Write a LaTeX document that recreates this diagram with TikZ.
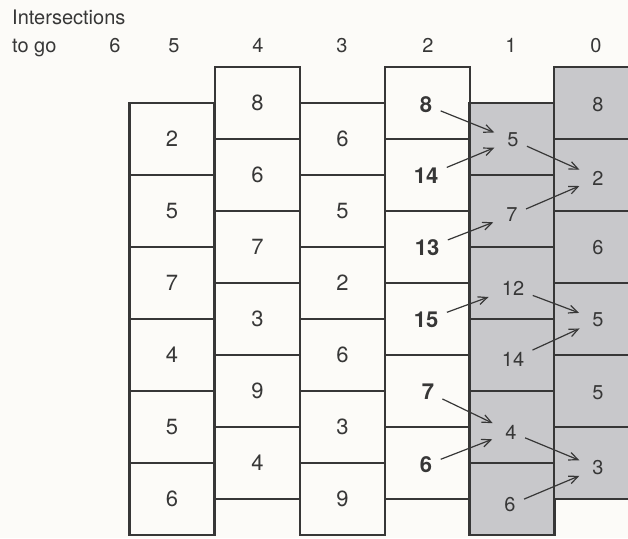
\documentclass[tikz,border=0pt]{standalone}
\usepackage{fontspec}
\setmainfont{TeX Gyre Heros}
\usetikzlibrary{arrows.meta}
\definecolor{ink}{RGB}{55,55,55}
\definecolor{shade}{RGB}{200,200,203}
\definecolor{paper}{RGB}{252,251,248}
\newcommand\boxfont{\fontsize{20}{24}\selectfont}
\newcommand\bigboxfont{\fontsize{22}{26}\selectfont}
\begin{document}
\begin{tikzpicture}[x=1pt,y=-1pt,
  box/.style={draw=ink,line width=2.8pt,minimum width=85pt,minimum height=72pt,inner sep=0pt,outer sep=0pt,font=\bigboxfont,text=ink},
  gbox/.style={box,fill=shade},
  num/.style={inner sep=0pt,font=\boxfont,text=ink},
  bnum/.style={inner sep=0pt,font=\bigboxfont\bfseries,text=ink},
  lab/.style={font=\boxfont,text=ink,inner sep=0pt},
  arr/.style={draw=ink,line width=1.2pt,-{Straight Barb[length=9pt,width=8pt]},shorten <=9pt,shorten >=14pt}]
\useasboundingbox (0,0) rectangle (628,538);
\clip (0,0) rectangle (628,538);
\fill[paper] (0,0) rectangle (628,538);
% header
\node[lab,anchor=base west] (hint) at (12,24) {Intersections};
\node[lab,anchor=base west] (hto) at (12,52) {to go};
\node[lab,anchor=base] (h6) at (115,52) {6};
\node[lab,anchor=base] (h5) at (174,52) {5};
\node[lab,anchor=base] (h4) at (258,52) {4};
\node[lab,anchor=base] (h3) at (342,52) {3};
\node[lab,anchor=base] (h2) at (428,52) {2};
\node[lab,anchor=base] (h1) at (511,52) {1};
\node[lab,anchor=base] (h0) at (596,52) {0};
% column 5
\foreach \v [count=\i from 0] in {2,5,7,4,5,6}
  \node[box] (a\i) at (172,{139+72*\i}) {\v};
% column 4
\foreach \v [count=\i from 0] in {8,6,7,3,9,4}
  \node[box] (b\i) at (257.5,{103+72*\i}) {\v};
% column 3
\foreach \v [count=\i from 0] in {6,5,2,6,3,9}
  \node[box] (c\i) at (342.5,{139+72*\i}) {\v};
% column 2
\foreach \i in {0,...,5}
  \node[box] (d\i) at (427.5,{103+72*\i}) {};
% column 1
\foreach \i in {0,...,5}
  \node[gbox] (e\i) at (512,{139+72*\i}) {};
% column 0
\foreach \i in {0,...,5}
  \node[gbox,minimum width=86pt] (f\i) at (597,{103+72*\i}) {};
% column 2 numbers (bold)
\node[bnum] (p0) at (426,105) {8};
\node[bnum] (p1) at (426,176) {14};
\node[bnum] (p2) at (427,248) {13};
\node[bnum] (p3) at (426,320) {15};
\node[bnum] (p4) at (428,392) {7};
\node[bnum] (p5) at (426,465) {6};
% column 1 numbers
\node[num] (q0) at (513,140) {5};
\node[num] (q1) at (512,215) {7};
\node[num] (q2) at (513,288) {12};
\node[num] (q3) at (513,359) {14};
\node[num] (q4) at (511,432) {4};
\node[num] (q5) at (510,505) {6};
% column 0 numbers
\node[num] (r0) at (598,105) {8};
\node[num] (r1) at (598,178) {2};
\node[num] (r2) at (598,248) {6};
\node[num] (r3) at (598,320) {5};
\node[num] (r4) at (598,393) {5};
\node[num] (r5) at (598,468) {3};
% arrows
\draw[arr] (p0) -- (q0);
\draw[arr] (p1) -- (q0);
\draw[arr] (p2) -- (q1);
\draw[arr] (p3) -- (q2);
\draw[arr] (p4) -- (q4);
\draw[arr] (p5) -- (q4);
\draw[arr] (q0) -- (r1);
\draw[arr] (q1) -- (r1);
\draw[arr] (q2) -- (r3);
\draw[arr] (q3) -- (r3);
\draw[arr] (q4) -- (r5);
\draw[arr] (q5) -- (r5);
\end{tikzpicture}
\end{document}
